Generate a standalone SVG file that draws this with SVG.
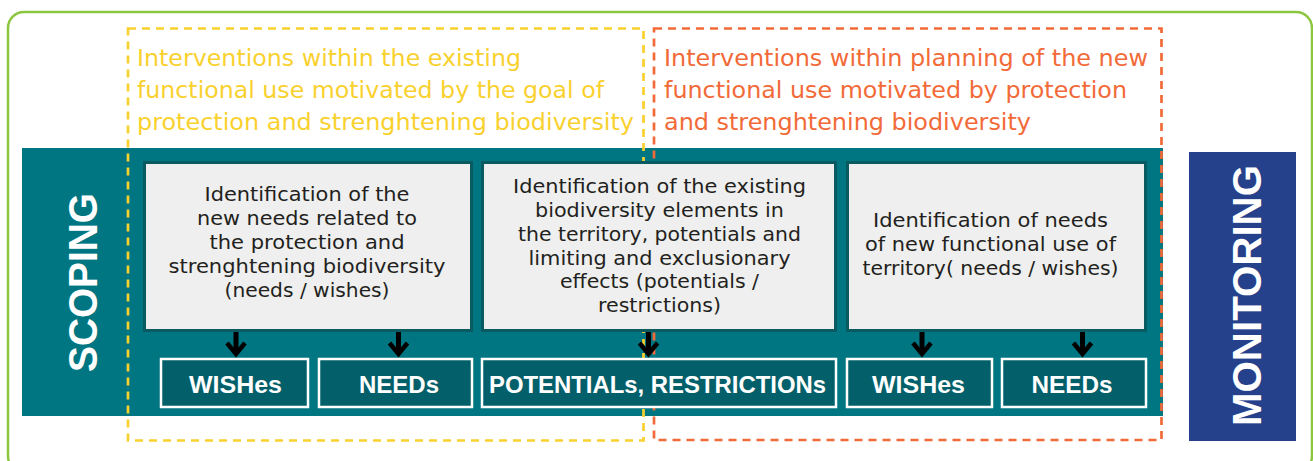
<svg xmlns="http://www.w3.org/2000/svg" width="1313" height="461" viewBox="0 0 1313 461">
  <style>
    .title { font-family: "DejaVu Sans", "Liberation Sans", sans-serif; font-size: 23px; }
    .yel { fill: #F9D12E; }
    .org { fill: #F26A38; }
    .dash { fill: none; stroke-width: 2.7; stroke-dasharray: 8 6; }
    .body { font-family: "DejaVu Sans", "Liberation Sans", sans-serif; font-size: 19.5px; fill: #231F20; text-anchor: middle; }
    .gbox { fill: #EEEFEE; stroke: #0A5A62; stroke-width: 3; }
    .obox { fill: #03606A; stroke: #FFFFFF; stroke-width: 2.5; }
    .olbl { font-family: "Liberation Sans", Arial, sans-serif; font-weight: bold; font-size: 24px; fill: #FFFFFF; text-anchor: middle; }
    .vlbl { font-family: "Liberation Sans", Arial, sans-serif; font-weight: bold; font-size: 40px; fill: #FFFFFF; text-anchor: middle; }
    .arrow { stroke: #000000; stroke-width: 5; fill: none; }
  </style>
  <defs>
    <marker id="chev" markerUnits="userSpaceOnUse" viewBox="-4 -13 18 26" refX="11" refY="0" markerWidth="18" markerHeight="26" orient="auto" overflow="visible">
      <path d="M0,-9 L11,0 L0,9" fill="none" stroke="#000000" stroke-width="4.5"/>
    </marker>
  </defs>

  <rect id="frame" x="8" y="12" width="1304" height="460" rx="16" ry="16" fill="#FFFFFF" stroke="#8CC63F" stroke-width="2.5"/>

  <g id="scoping">
    <rect x="22" y="148" width="1141" height="268" fill="#007682"/>
    <text class="vlbl" transform="translate(97,282.5) rotate(-90)" textLength="179" lengthAdjust="spacingAndGlyphs">SCOPING</text>
  </g>

  <g id="existing-use">
    <rect class="dash" x="128" y="28.5" width="515.5" height="412" stroke="#F9D12E"/>
    <text class="title yel" x="137" y="66" textLength="384" lengthAdjust="spacingAndGlyphs">Interventions within the existing</text>
    <text class="title yel" x="137" y="98" textLength="467" lengthAdjust="spacingAndGlyphs">functional use motivated by the goal of</text>
    <text class="title yel" x="137" y="130" textLength="497" lengthAdjust="spacingAndGlyphs">protection and strenghtening biodiversity</text>
  </g>

  <g id="new-use">
    <rect class="dash" x="654" y="28.5" width="507.5" height="411.5" stroke="#F26A38"/>
    <text class="title org" x="664" y="66" textLength="484" lengthAdjust="spacingAndGlyphs">Interventions within planning of the new</text>
    <text class="title org" x="664" y="98" textLength="463" lengthAdjust="spacingAndGlyphs">functional use motivated by protection</text>
    <text class="title org" x="664" y="130" textLength="367" lengthAdjust="spacingAndGlyphs">and strenghtening biodiversity</text>
  </g>

  <g id="box-new-needs">
    <rect class="gbox" x="144.5" y="162.5" width="327" height="168"/>
    <text class="body" x="307" y="201" textLength="205" lengthAdjust="spacingAndGlyphs">Identification of the</text>
    <text class="body" x="307" y="225" textLength="220" lengthAdjust="spacingAndGlyphs">new needs related to</text>
    <text class="body" x="307" y="249" textLength="195" lengthAdjust="spacingAndGlyphs">the protection and</text>
    <text class="body" x="307" y="273" textLength="277" lengthAdjust="spacingAndGlyphs">strenghtening biodiversity</text>
    <text class="body" x="307" y="297" textLength="165" lengthAdjust="spacingAndGlyphs">(needs / wishes)</text>
  </g>

  <g id="box-existing-elements">
    <rect class="gbox" x="482.5" y="162.5" width="353" height="168"/>
    <text class="body" x="659.5" y="193" textLength="293" lengthAdjust="spacingAndGlyphs">Identification of the existing</text>
    <text class="body" x="659.5" y="217" textLength="249" lengthAdjust="spacingAndGlyphs">biodiversity elements in</text>
    <text class="body" x="659.5" y="241" textLength="283" lengthAdjust="spacingAndGlyphs">the territory, potentials and</text>
    <text class="body" x="659.5" y="264.5" textLength="262" lengthAdjust="spacingAndGlyphs">limiting and exclusionary</text>
    <text class="body" x="659.5" y="288" textLength="199" lengthAdjust="spacingAndGlyphs">effects (potentials /</text>
    <text class="body" x="659.5" y="312" textLength="123" lengthAdjust="spacingAndGlyphs">restrictions)</text>
  </g>

  <g id="box-new-use-needs">
    <rect class="gbox" x="847.5" y="162.5" width="298" height="168"/>
    <text class="body" x="990.5" y="227" textLength="235" lengthAdjust="spacingAndGlyphs">Identification of needs</text>
    <text class="body" x="990.5" y="251" textLength="251" lengthAdjust="spacingAndGlyphs">of new functional use of</text>
    <text class="body" x="990.5" y="275" textLength="256" lengthAdjust="spacingAndGlyphs">territory( needs / wishes)</text>
  </g>

  <g id="out-wishes-1">
    <rect class="obox" x="161" y="359" width="147" height="48"/>
    <text class="olbl" x="235.5" y="393" textLength="93" lengthAdjust="spacingAndGlyphs">WISHes</text>
  </g>
  <g id="out-needs-1">
    <rect class="obox" x="319" y="359" width="153" height="48"/>
    <text class="olbl" x="399" y="393" textLength="80" lengthAdjust="spacingAndGlyphs">NEEDs</text>
  </g>
  <g id="out-potentials">
    <rect class="obox" x="482" y="359" width="354" height="48"/>
    <text class="olbl" x="657.5" y="393" textLength="337" lengthAdjust="spacingAndGlyphs">POTENTIALs, RESTRICTIONs</text>
  </g>
  <g id="out-wishes-2">
    <rect class="obox" x="847" y="359" width="145" height="48"/>
    <text class="olbl" x="918.5" y="393" textLength="93" lengthAdjust="spacingAndGlyphs">WISHes</text>
  </g>
  <g id="out-needs-2">
    <rect class="obox" x="1002" y="359" width="144" height="48"/>
    <text class="olbl" x="1072" y="393" textLength="81" lengthAdjust="spacingAndGlyphs">NEEDs</text>
  </g>

  <g id="connectors">
    <line class="arrow" x1="236" y1="332" x2="236" y2="354" marker-end="url(#chev)"/>
    <line class="arrow" x1="398.5" y1="332" x2="398.5" y2="354" marker-end="url(#chev)"/>
    <line class="arrow" x1="648.5" y1="332" x2="648.5" y2="354" marker-end="url(#chev)"/>
    <line class="arrow" x1="922" y1="332" x2="922" y2="354" marker-end="url(#chev)"/>
    <line class="arrow" x1="1082.5" y1="332" x2="1082.5" y2="354" marker-end="url(#chev)"/>
  </g>

  <g id="monitoring">
    <rect x="1189" y="152" width="107" height="289" fill="#26418B"/>
    <text class="vlbl" transform="translate(1261,295.5) rotate(-90)" font-size="41" textLength="261" lengthAdjust="spacingAndGlyphs">MONITORING</text>
  </g>
</svg>
